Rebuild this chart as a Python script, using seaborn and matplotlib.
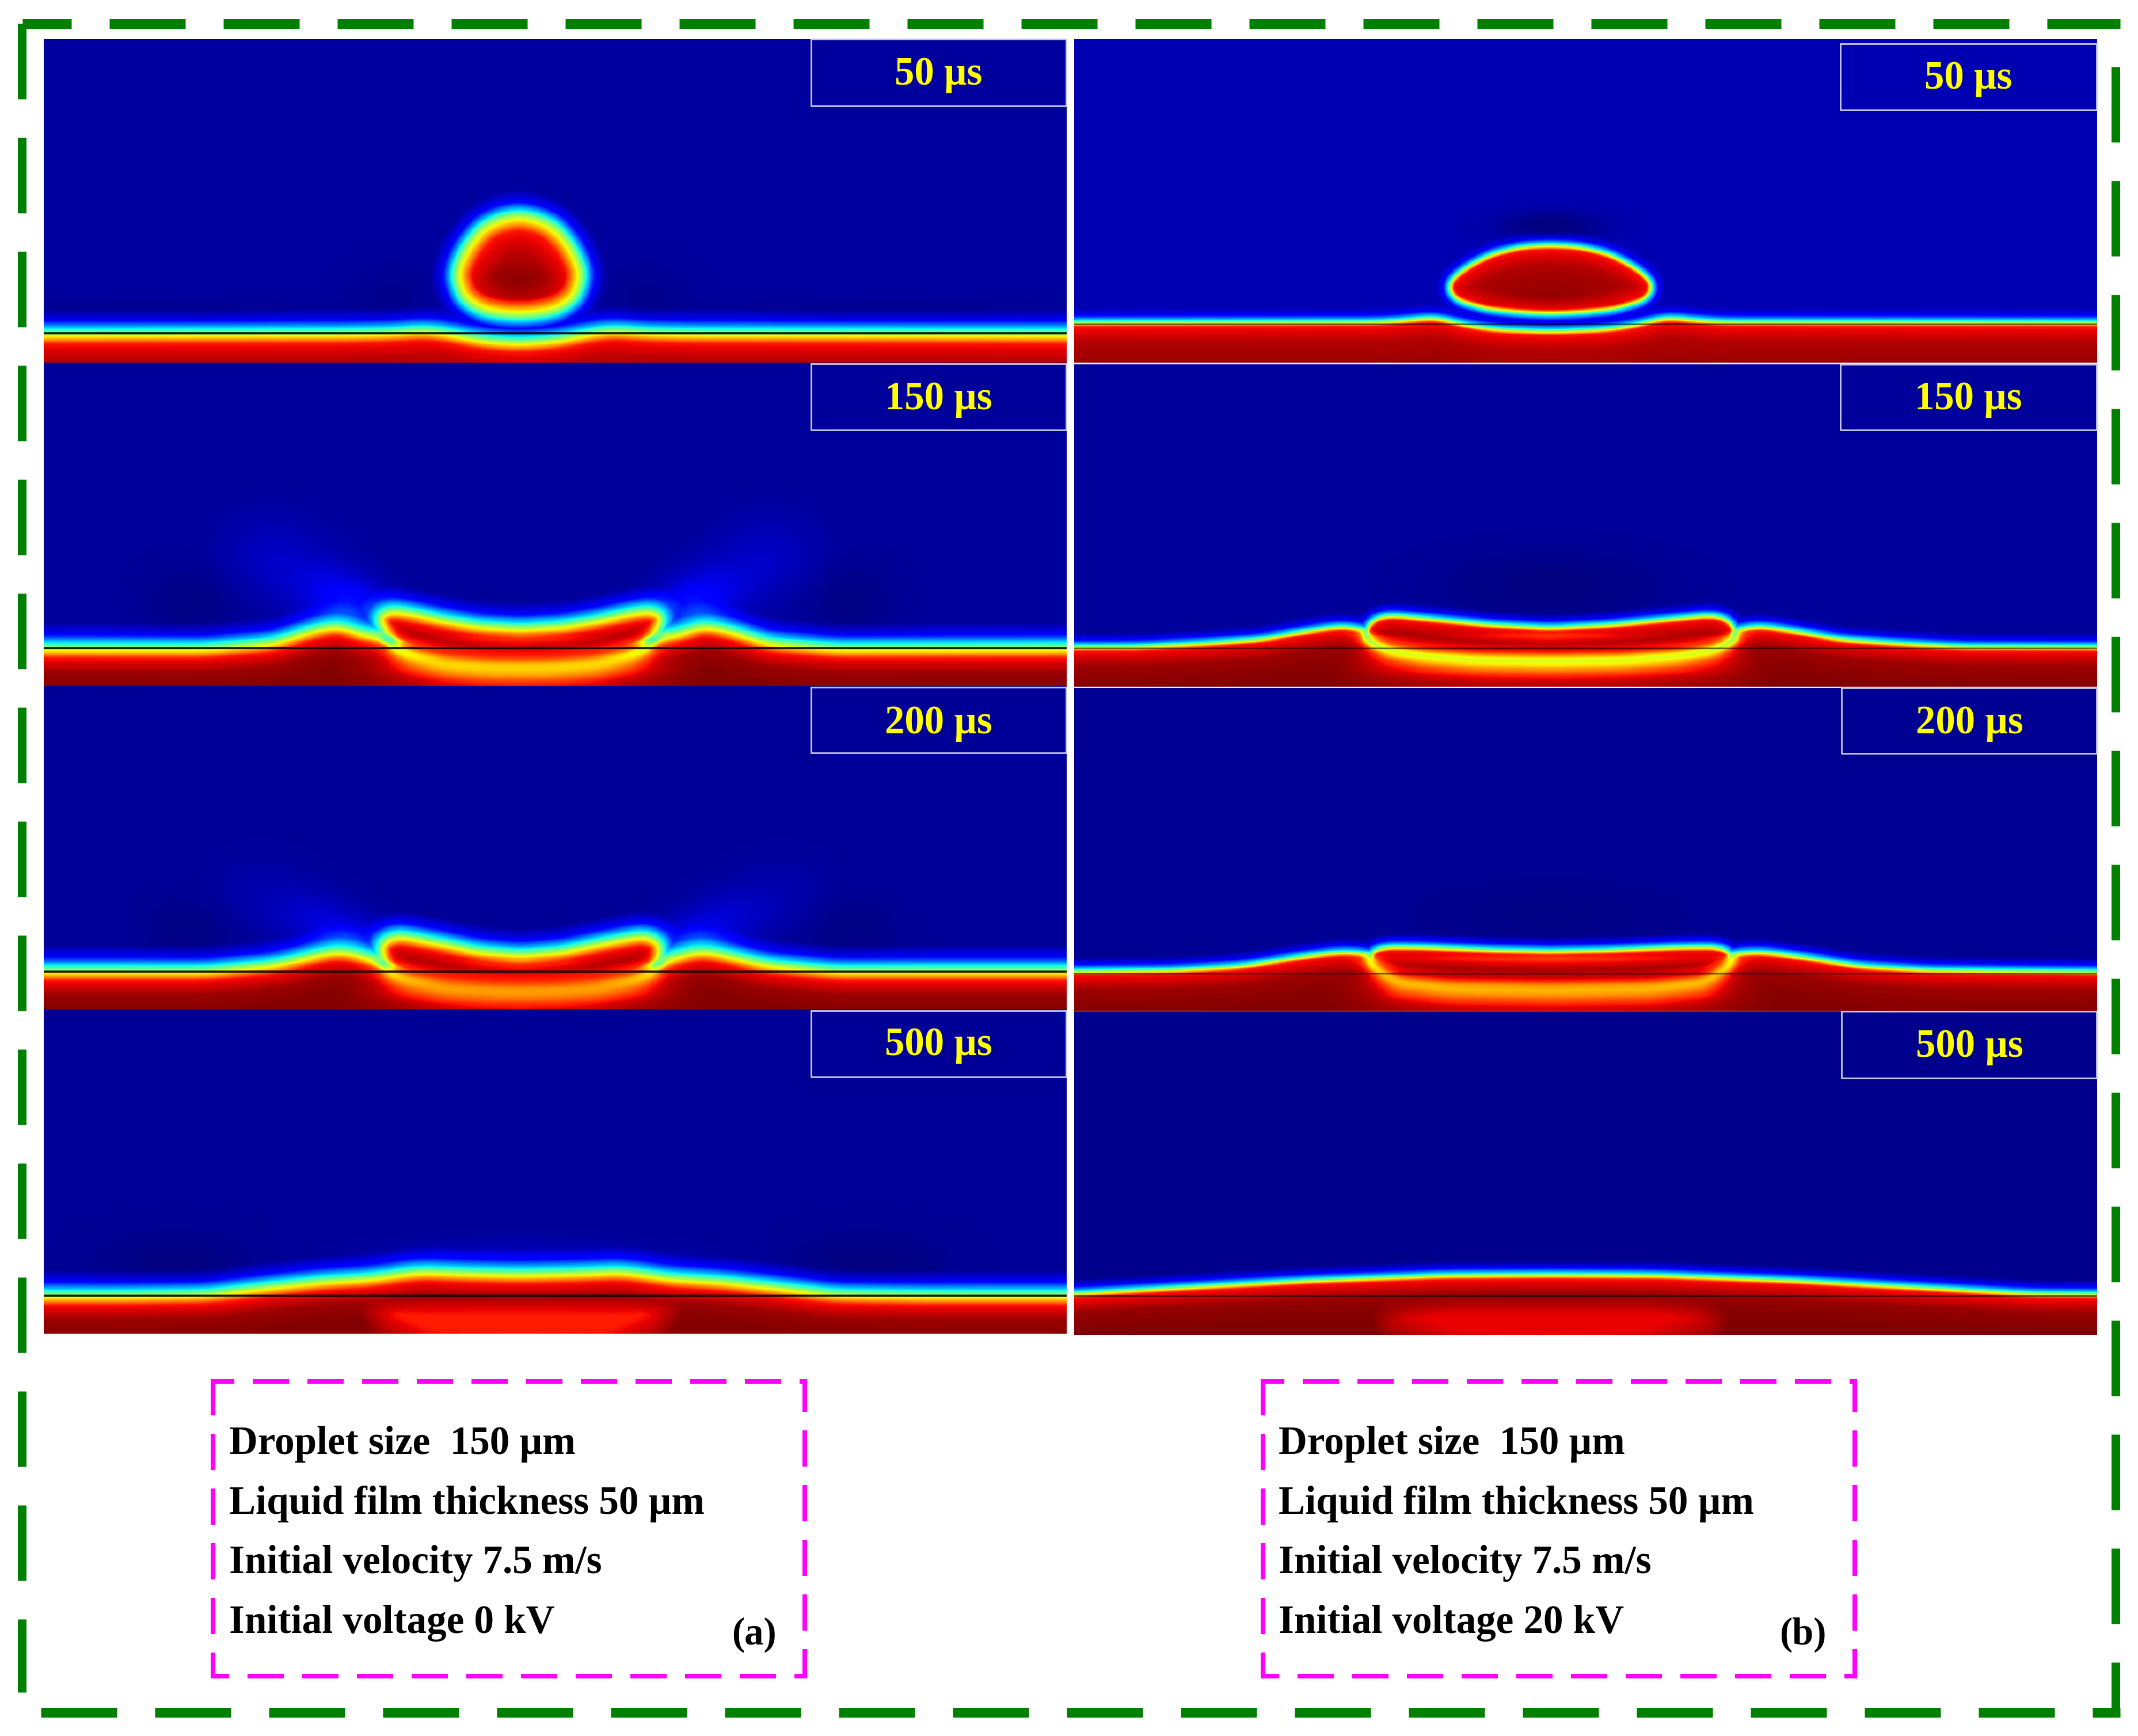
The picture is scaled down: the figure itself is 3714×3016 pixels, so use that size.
import numpy as np
import seaborn as sns
import matplotlib
matplotlib.use('Agg')
import matplotlib.pyplot as plt
from matplotlib.path import Path

# values: half outlines of the liquid, px from droplet axis / px above panel bottom
# the colour field of each panel is rebuilt from these outlines
a1_film_dx = [0, 60, 95, 130, 166, 210, 300, 1100]
a1_film_h = [37, 41, 48, 55, 59, 55, 53, 52]
a1_drop_dx = [0, 35, 65, 92, 108, 113, 100, 68, 33, 0]
a1_drop_h = [260, 253, 238, 205, 172, 150, 111, 89, 82, 80]

a2_film_dx = [0, 235, 255, 274, 315, 369, 428, 547, 1100]
a2_film_h = [90, 90, 92, 93, 110, 98, 78, 68, 69]
a2_drop_dx = [0, 71, 131, 190, 226, 248, 250, 240, 219, 190, 130, 60, 0]
a2_drop_h = [103, 107, 117, 130, 135, 125, 118, 95, 66, 52, 37, 31, 30]

a3_film_dx = [0, 235, 255, 285, 320, 368, 427, 546, 1100]
a3_film_h = [88, 88, 90, 101, 106, 95, 81, 70, 70]
a3_drop_dx = [0, 71, 142, 190, 213, 240, 247, 243, 232, 200, 130, 60, 0]
a3_drop_h = [98, 104, 119, 128, 132, 122, 111, 85, 66, 50, 36, 31, 30]

a4_film_dx = [0, 95, 178, 261, 344, 427, 546, 700, 1100]
a4_film_h = [106, 108, 111, 99, 94, 85, 71, 69, 69]
a4_drop_dx = [0, 95, 178, 265, 285, 255, 170, 0]
a4_drop_h = [106, 108, 111, 80, 40, -10, -50, -60]

b1_film_dx = [0, 89, 136, 171, 201, 242, 301, 1100]
b1_film_h = [55, 58, 64, 72, 80, 75, 71, 70]
b1_drop_dx = [0, 50, 100, 140, 170, 180, 165, 110, 50, 0]
b1_drop_h = [205, 202, 190, 170, 148, 130, 108, 92, 86, 84]

b2_film_dx = [0, 300, 325, 337, 366, 431, 502, 597, 715, 1100]
b2_film_h = [94, 94, 99, 104, 106, 96, 83, 76, 70, 69]
b2_drop_dx = [0, 100, 183, 278, 307, 323, 320, 284, 219, 124, 0]
b2_drop_h = [103, 108, 116, 125, 119, 100, 80, 63, 53, 46, 44]

b3_film_dx = [0, 300, 325, 331, 378, 443, 538, 656, 1100]
b3_film_h = [97, 97, 101, 104, 103, 94, 79, 72, 68]
b3_drop_dx = [0, 100, 219, 284, 313, 318, 307, 266, 171, 0]
b3_drop_h = [105, 107, 112, 113, 105, 90, 75, 50, 39, 36]

b4_film_dx = [0, 183, 420, 656, 833, 1100]
b4_film_h = [105, 104, 95, 82, 72, 70]
b4_drop_dx = [0, 183, 280, 315, 300, 180, 0]
b4_drop_h = [105, 104, 70, 30, -10, -50, -60]

# glow / shadow patches in the air: dx, h, width, height, strength
a1_glow = [(220, 110, 70, 60, -0.015), (650, 85, 300, 22, -0.02)]
a2_glow = [(290, 140, 55, 40, 0.09), (340, 170, 70, 50, 0.05), (430, 225, 90, 70, 0.035), (570, 150, 80, 70, -0.02)]
a3_glow = [(300, 125, 55, 35, 0.08), (360, 160, 70, 45, 0.04), (450, 200, 90, 60, 0.02), (570, 140, 80, 60, -0.018)]
a4_glow = [(600, 120, 120, 50, -0.02), (0, 140, 260, 30, 0.025)]
b1_glow = [(0, 238, 90, 25, -0.05)]
b2_glow = [(0, 175, 190, 60, -0.025)]
b3_glow = [(0, 170, 190, 50, -0.012)]
b4_glow = []

# darker or lighter spots inside the liquid
a1_core = [(0, 123, 75, 40, 0.06)]
b1_core = [(0, 112, 120, 22, 0.03)]

labels = ['50 µs', '150 µs', '200 µs', '500 µs']
info_a = ['Droplet size  150 µm', 'Liquid film thickness 50 µm', 'Initial velocity 7.5 m/s', 'Initial voltage 0 kV']
info_b = ['Droplet size  150 µm', 'Liquid film thickness 50 µm', 'Initial velocity 7.5 m/s', 'Initial voltage 20 kV']

W, H = 3714, 3016
CELL = 2

sns.set_style('white')
plt.rcParams['font.family'] = ['Liberation Serif', 'DejaVu Serif']
plt.rcParams['lines.scale_dashes'] = False

d_a = [-42, -22, -7, 0, 7, 20, 45, 75]
v_a = [0, 0.11, 0.35, 0.5, 0.65, 0.89, 0, 0]
d_b = [-24, -12, -3, 0, 3, 8, 35, 75]
v_b = [0, 0.11, 0.35, 0.5, 0.65, 0.89, 0, 0]


def mirror(dx, h):
    dx, h = np.array(dx, float), np.array(h, float)
    return np.r_[dx[::-1] * -1, dx[1:]], np.r_[h[::-1], h[1:]]


def resample(x, y, step, win, closed=False):
    s = np.r_[0, np.cumsum(np.hypot(np.diff(x), np.diff(y)))]
    t = np.arange(0, s[-1], step)
    px, py = np.interp(t, s, x), np.interp(t, s, y)
    k = np.ones(win) / win
    for _ in range(2):
        if closed:
            px = np.convolve(np.r_[px[-win:], px, px[:win]], k, 'same')[win:-win]
            py = np.convolve(np.r_[py[-win:], py, py[:win]], k, 'same')[win:-win]
        else:
            px = np.convolve(np.r_[np.full(win, px[0]), px, np.full(win, px[-1])], k, 'same')[win:-win]
            py = np.convolve(np.r_[np.full(win, py[0]), py, np.full(win, py[-1])], k, 'same')[win:-win]
    return px, py


def signed_dist(X, Y, px, py, poly):
    best = np.full(X.shape, 1e9, dtype=np.float32)
    for i in range(len(px) - 1):
        ax_, ay_ = px[i], py[i]
        ex, ey = px[i + 1] - ax_, py[i + 1] - ay_
        t = ((X - ax_) * ex + (Y - ay_) * ey) / (ex * ex + ey * ey + 1e-6)
        t = np.clip(t, 0, 1)
        cur = (X - ax_ - t * ex) ** 2 + (Y - ay_ - t * ey) ** 2
        best = np.minimum(best, cur)
    best = np.sqrt(best)
    pts = np.c_[X.ravel(), Y.ravel()]
    inside = Path(poly).contains_points(pts).reshape(X.shape)
    return np.where(inside, best, -best)


def make_field(p):
    nx = (p['x1'] - p['x0']) // CELL
    ny = (p['y1'] - p['y0']) // CELL
    xs = p['x0'] + (np.arange(nx) + 0.5) * CELL - p['cx']
    ys = (p['y1'] - p['y0']) - (np.arange(ny) + 0.5) * CELL
    X, Y = np.meshgrid(xs.astype(np.float32), ys.astype(np.float32))

    fx, fy = mirror(p['film'][0], p['film'][1])
    fpx, fpy = resample(fx, fy, 6, 7)
    film_poly = np.c_[np.r_[fpx, fpx[-1], fpx[0]], np.r_[fpy, -300, -300]]
    d_film = signed_dist(X, Y, fpx, fpy, film_poly)

    dx_, dy_ = mirror(p['drop'][0], p['drop'][1])
    dpx, dpy = resample(dx_, dy_, 4, 7, closed=True)
    dpx, dpy = np.r_[dpx, dpx[0]], np.r_[dpy, dpy[0]]
    d_drop = signed_dist(X, Y, dpx, dpy, np.c_[dpx, dpy])

    stops, vals = (d_a, list(v_a)) if p['side'] == 'a' else (d_b, list(v_b))
    vals[0], vals[-2], vals[-1] = p['bg'], p['deep'], min(p['deep'] + 0.02, 1)
    v_film = np.interp(d_film, stops, vals)
    v_drop = np.interp(np.where(d_drop > 0, d_drop / p['soft'], d_drop), stops, vals)
    v = np.maximum(v_film, v_drop)

    d_union = np.maximum(d_film, d_drop)
    below = np.clip((p['line'] - Y) / 40, 0, 1)
    # seam and bowl where the droplet sits inside the film
    inside = np.clip(d_film / p['seam_in'], 0, 1)
    sig = p['sigma'] * (0.45 + 0.55 * below)
    band = np.exp(-(d_drop / sig) ** 2) + 0.3 * np.exp(-(d_drop / (2.4 * sig)) ** 2)
    v = v - p['amp'] * band / 1.3 * inside
    # old droplet liquid still lighter under the film line (late panels)
    v = v - p['fill'] * np.clip(d_drop / 60, 0, 1) * np.clip((p['line'] - Y) / 35, 0, 1)

    air = np.clip(-d_union / 20, 0, 1)
    for gx, gy, gw, gh, gs in p['glow']:
        v = v + air * gs * np.exp(-((np.abs(X) - gx) / gw) ** 2 - ((Y - gy) / gh) ** 2)
    for gx, gy, gw, gh, gs in p['core']:
        v = v + gs * np.exp(-((np.abs(X) - gx) / gw) ** 2 - ((Y - gy) / gh) ** 2)
    return np.clip(v, 0, 1)


panels = [
    dict(side='a', x0=76, x1=1853, y0=68, y1=630, cx=901, film=(a1_film_dx, a1_film_h), drop=(a1_drop_dx, a1_drop_h), glow=a1_glow, core=a1_core, bg=0.028, deep=0.945, soft=1.5, amp=0, fill=0, sigma=14, seam_in=14, line=51, box=(1409, 68, 184), base=147, tx=1630),
    dict(side='a', x0=76, x1=1853, y0=630, y1=1192, cx=904, film=(a2_film_dx, a2_film_h), drop=(a2_drop_dx, a2_drop_h), glow=a2_glow, core=[], bg=0.025, deep=0.975, soft=1.0, amp=0.3, fill=0, sigma=24, seam_in=10, line=66, box=(1409, 632, 747), base=711, tx=1630),
    dict(side='a', x0=76, x1=1853, y0=1192, y1=1753, cx=904, film=(a3_film_dx, a3_film_h), drop=(a3_drop_dx, a3_drop_h), glow=a3_glow, core=[], bg=0.022, deep=0.975, soft=1.0, amp=0.24, fill=0, sigma=24, seam_in=10, line=66, box=(1409, 1194, 1308), base=1274, tx=1630),
    dict(side='a', x0=76, x1=1853, y0=1753, y1=2317, cx=904, film=(a4_film_dx, a4_film_h), drop=(a4_drop_dx, a4_drop_h), glow=a4_glow, core=[], bg=0.02, deep=0.975, soft=1.0, amp=0, fill=0.115, sigma=30, seam_in=30, line=66, box=(1409, 1756, 1871), base=1833, tx=1630),
    dict(side='b', x0=1866, x1=3643, y0=68, y1=630, cx=2693, film=(b1_film_dx, b1_film_h), drop=(b1_drop_dx, b1_drop_h), glow=b1_glow, core=b1_core, bg=0.045, deep=0.955, soft=1.0, amp=0, fill=0, sigma=10, seam_in=10, line=67, box=(3197, 76, 191), base=154, tx=3419),
    dict(side='b', x0=1866, x1=3643, y0=633, y1=1193, cx=2693, film=(b2_film_dx, b2_film_h), drop=(b2_drop_dx, b2_drop_h), glow=b2_glow, core=[], bg=0.025, deep=0.975, soft=1.0, amp=0.36, fill=0, sigma=21, seam_in=8, line=67, box=(3197, 633, 747), base=711, tx=3419),
    dict(side='b', x0=1866, x1=3643, y0=1195, y1=1756, cx=2693, film=(b3_film_dx, b3_film_h), drop=(b3_drop_dx, b3_drop_h), glow=b3_glow, core=[], bg=0.018, deep=0.975, soft=1.0, amp=0.27, fill=0, sigma=23, seam_in=8, line=66, box=(3199, 1195, 1309), base=1274, tx=3421),
    dict(side='b', x0=1866, x1=3643, y0=1757, y1=2319, cx=2693, film=(b4_film_dx, b4_film_h), drop=(b4_drop_dx, b4_drop_h), glow=b4_glow, core=[], bg=0.015, deep=0.98, soft=1.0, amp=0, fill=0.09, sigma=30, seam_in=30, line=68, box=(3199, 1757, 1873), base=1836, tx=3421),
]

fig = plt.figure(figsize=(W / 100, H / 100), dpi=100)

for p in panels:
    pos = [p['x0'] / W, 1 - p['y1'] / H, (p['x1'] - p['x0']) / W, (p['y1'] - p['y0']) / H]
    ax = fig.add_axes(pos)
    field = make_field(p)
    sns.heatmap(field, ax=ax, cmap='jet', vmin=0, vmax=1, cbar=False, xticklabels=False, yticklabels=False, rasterized=True)
    row = ((p['y1'] - p['y0']) - p['line']) / CELL
    if p['side'] == 'a':
        ax.axhline(row, color='black', lw=2.6, alpha=0.9)
    else:
        ax.axhline(row, color='black', lw=2.2, alpha=0.55)

top = fig.add_axes([0, 0, 1, 1], zorder=5)
top.set_xlim(0, W)
top.set_ylim(H, 0)
top.axis('off')
top.patch.set_alpha(0)


def dash(xs, ys, color, lw, on, off, phase=0):
    top.plot(xs, ys, color=color, lw=lw * 0.72, dash_capstyle='butt', linestyle=(phase * 0.72, (on * 0.72, off * 0.72)))


green = '#008000'
dash([39, 3683], [41, 41], green, 17, 132, 66, 47)
dash([71, 3683], [2975, 2975], green, 17, 132, 66)
dash([38, 38], [41, 2940], green, 15, 131, 67)
dash([3675, 3675], [41, 2975], green, 15, 131, 67, 123)

for left, right in [(370, 1398), (2194, 3222)]:
    dash([left, right], [2400, 2400], '#ff00ff', 8, 63, 32, 26)
    dash([left, right], [2912, 2912], '#ff00ff', 8, 63, 32, 35)
    dash([left, left], [2396, 2916], '#ff00ff', 8, 63, 32)
    dash([right, right], [2396, 2916], '#ff00ff', 8, 63, 32, 6)

for i, p in enumerate(panels):
    bx0 = p['box'][0]
    by0, by1 = p['box'][1], p['box'][2]
    bx1 = p['x1'] - 1
    top.plot([bx0, bx1, bx1, bx0, bx0], [by0, by0, by1, by1, by0], color='#c8c8e4', lw=2)
    top.text(p['tx'], p['base'], labels[i % 4], color='yellow', fontsize=49.5, fontweight='bold', ha='center', va='baseline')

baselines = [2526, 2630, 2733, 2837]
for txt, yy in zip(info_a, baselines):
    top.text(398, yy, txt, fontsize=49.7, fontweight='bold', color='black', va='baseline')
for txt, yy in zip(info_b, baselines):
    top.text(2221, yy, txt, fontsize=49.7, fontweight='bold', color='black', va='baseline')
top.text(1310, 2857, '(a)', fontsize=48, fontweight='bold', color='black', ha='center', va='baseline')
top.text(3132, 2857, '(b)', fontsize=48, fontweight='bold', color='black', ha='center', va='baseline')

fig.savefig('out.png', dpi=100, facecolor='white')
